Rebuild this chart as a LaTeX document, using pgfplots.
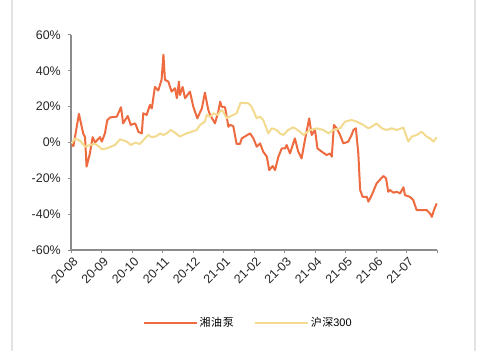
\documentclass[border=0pt]{standalone}
\usepackage{fontspec}
\setmainfont{Liberation Sans}
\newfontfamily\cjk[LetterSpace=6]{Noto Sans CJK SC}
\usepackage{pgfplots}
\pgfplotsset{compat=1.18}
\definecolor{orangeL}{HTML}{EE6B40}
\definecolor{yellowL}{HTML}{F2DA8E}
\definecolor{axgray}{HTML}{8C8C8C}
\definecolor{framegray}{HTML}{E2E2E2}
\begin{document}
\begin{tikzpicture}[x=1bp,y=1bp]
\useasboundingbox (0,0) rectangle (481,351);
\draw[framegray, line width=1.5bp] (12,0) -- (12,351);
\draw[framegray, line width=1.5bp] (475,0) -- (475,351);
\begin{axis}[
  at={(71bp,101bp)}, anchor=south west,
  width=366bp, height=215bp, scale only axis,
  xmin=0, xmax=12, ymin=-60, ymax=60,
  axis x line*=bottom, axis y line*=left,
  xtick={0,1,...,12},
  xticklabels={20-08,20-09,20-10,20-11,20-12,21-01,21-02,21-03,21-04,21-05,21-06,21-07,{}},
  ytick={-60,-40,...,60},
  yticklabel={\pgfmathprintnumber{\tick}\%},
  /pgf/number format/assume math mode=true,
  tick align=outside, major tick length=3bp,
  axis line style={axgray, line width=1.5bp},
  tick style={axgray, line width=1bp},
  tick label style={font=\fontsize{12.5}{14}\selectfont, text=black!85},
  x tick label style={rotate=45, anchor=north east, inner sep=1bp, yshift=-2bp},
  y tick label style={inner sep=2bp, xshift=-5bp},
  legend style={at={(0.484,-0.34)}, anchor=center, draw=none, fill=none,
    legend columns=2, font=\fontsize{11}{13}\selectfont,
    /tikz/every even column/.append style={column sep=18bp}},
  legend image code/.code={\draw[#1] (0bp,0bp) -- (53bp,0bp);},
  clip=false,
]
\addplot[orangeL, line width=2bp, line join=round] coordinates {
(0.02,-1.4)(0.08,-2)(0.26,16)(0.40,5)(0.46,3)(0.51,-13.5)(0.62,-6)(0.71,3)(0.79,0)
(0.95,3)(1.01,0.5)(1.11,5)(1.19,12.5)(1.28,14)(1.50,14.4)(1.64,19.7)(1.71,10.7)
(1.86,14.8)(1.96,9.8)(2.10,10.7)(2.15,8.8)(2.21,5.9)(2.32,5.1)(2.37,16.3)(2.48,15.4)
(2.59,21)(2.65,19)(2.75,31)(2.86,29)(2.97,35)(3.03,49)(3.08,35)(3.19,34)(3.30,28.4)
(3.41,30.3)(3.47,24.7)(3.54,34)(3.57,26.5)(3.66,31)(3.74,24.7)(3.90,28.4)(4.01,20)
(4.14,13.5)(4.29,19)(4.39,27.8)(4.50,18.2)(4.56,15.4)(4.72,10.7)(4.83,17.2)(4.89,22.8)
(4.94,20)(5.05,19.7)(5.16,8.8)(5.21,9.8)(5.32,9.2)(5.43,-0.8)(5.54,-0.8)(5.60,2.3)
(5.87,5.1)(5.98,2.3)(6.09,-2.3)(6.20,-0.5)(6.30,-5.1)(6.42,-7.9)(6.50,-15.4)(6.61,-13.1)
(6.69,-15.4)(6.80,-7.9)(6.91,-3.3)(7.02,-3.3)(7.07,-1.4)(7.18,-6.1)(7.34,2.3)(7.45,-5.1)
(7.56,-8.9)(7.67,1.4)(7.81,13.5)(7.89,4.2)(8.00,7)(8.08,-3.3)(8.22,-5.1)(8.38,-7)
(8.49,-6.1)(8.55,-7.9)(8.62,9.8)(8.71,7.9)(8.82,4.2)(8.93,-0.5)(9.09,0.5)(9.20,4.2)
(9.26,7)(9.34,7.9)(9.42,-6.1)(9.48,-26.5)(9.56,-30.3)(9.70,-30.3)(9.75,-33)(9.86,-29.4)
(10.02,-22.8)(10.24,-18.7)(10.33,-20)(10.40,-27.5)(10.46,-26.5)(10.57,-28)(10.68,-27.5)
(10.79,-28.4)(10.90,-25)(10.95,-29.4)(11.11,-30.3)(11.22,-32.1)(11.33,-37.7)(11.50,-37.7)
(11.66,-37.7)(11.77,-39.6)(11.83,-41.5)(11.90,-37.7)(11.99,-34)
};
\addlegendentry{\cjk 湘油泵}
\addplot[yellowL, line width=2bp, line join=round] coordinates {
(0.02,-0.5)(0.13,2.3)(0.30,1)(0.46,-2.3)(0.62,-1.4)(0.79,-0.8)(0.90,-2)(1.01,-3.8)
(1.17,-3.3)(1.44,-1.4)(1.61,1.8)(1.83,0.5)(1.96,-1.4)(2.10,-0.1)(2.26,-0.8)(2.53,4.2)
(2.65,2.9)(2.81,3.6)(2.92,5.1)(3.03,4.2)(3.14,5.1)(3.27,7)(3.41,5.5)(3.57,3.3)(3.79,5.1)
(3.96,6)(4.12,7)(4.23,9.8)(4.39,11.6)(4.45,15.4)(4.56,14.4)(4.67,16.3)(4.80,15.4)
(4.94,18.2)(4.99,17.2)(5.10,13.5)(5.32,15.4)(5.43,16.3)(5.56,22.2)(5.81,21.9)(5.92,20)
(6.09,13.5)(6.20,14.4)(6.30,12.6)(6.47,5.1)(6.58,7.9)(6.74,7)(6.85,5.1)(6.96,4.2)
(7.12,7)(7.29,8.5)(7.51,6)(7.62,4.2)(7.84,7)(8.06,7.9)(8.27,7)(8.44,5.1)(8.60,7)
(8.82,7.9)(8.98,11.6)(9.20,12.6)(9.37,11.6)(9.58,9.8)(9.75,7.9)(9.86,8.8)(10.02,10.7)
(10.19,7.9)(10.35,7)(10.51,7.9)(10.68,7)(10.90,8.3)(11.00,3.3)(11.06,0.5)(11.17,3.3)
(11.33,4.2)(11.50,6)(11.66,3.3)(11.77,2.3)(11.88,0.5)(11.99,2.9)
};
\addlegendentry{{\cjk 沪深}300}
\end{axis}
\end{tikzpicture}
\end{document}
